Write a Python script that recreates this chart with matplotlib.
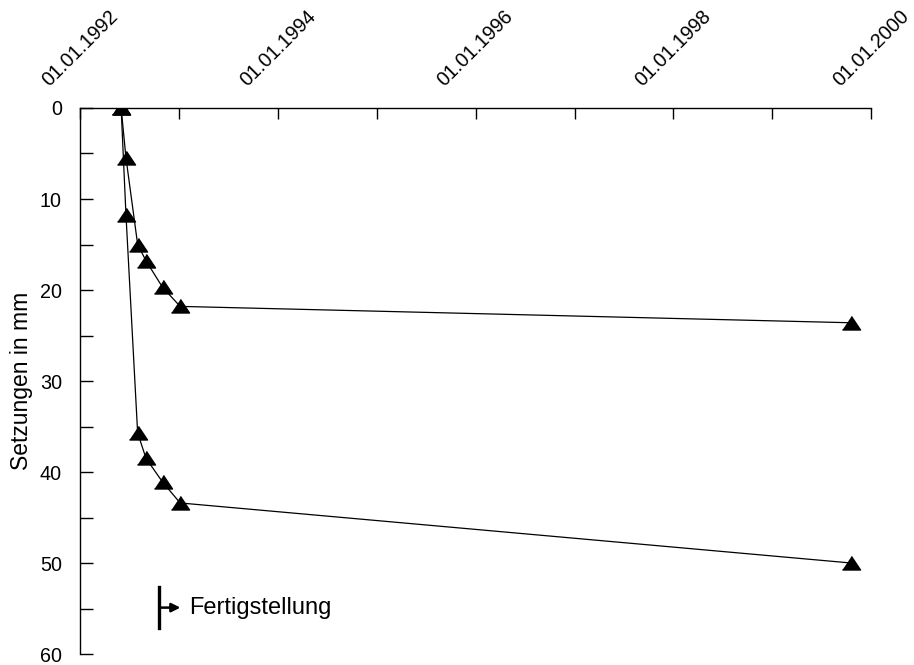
import datetime as dt
import matplotlib
matplotlib.use("Agg")
import matplotlib.pyplot as plt
import matplotlib.dates as mdates

plt.rcParams['font.family'] = ['Liberation Sans', 'DejaVu Sans']

# measurement dates (shared by both points)
dates = [dt.date(1992, 6, 1), dt.date(1992, 6, 19), dt.date(1992, 8, 1),
         dt.date(1992, 9, 1), dt.date(1992, 11, 1), dt.date(1993, 1, 5),
         dt.date(1999, 10, 20)]
upper = [0, 5.5, 15.0, 16.8, 19.7, 21.8, 23.6]
lower = [0, 11.8, 35.7, 38.5, 41.1, 43.4, 50.0]

finish_date = dt.date(1992, 10, 20)
finish_label = 'Fertigstellung'

fig = plt.figure(figsize=(9.14, 6.65), dpi=100)
ax = fig.add_axes([0.0875, 0.0165, 0.8655, 0.8211])

tri = [(-1, -0.72), (1, -0.72), (0, 0.78)]
for s in (upper, lower):
    ax.plot(dates, s, color='black', lw=0.9, marker=tri, ms=13,
            markerfacecolor='black', markeredgecolor='black')

ax.set_xlim(dt.date(1992, 1, 1), dt.date(2000, 1, 1))
ax.set_ylim(60, 0)

# x axis on top, yearly ticks, labels every second year
ax.xaxis.tick_top()
ax.xaxis.set_major_locator(mdates.YearLocator(1))
ax.xaxis.set_major_formatter(
    plt.FuncFormatter(lambda v, p: mdates.num2date(v).strftime('%d.%m.%Y')
                      if mdates.num2date(v).year % 2 == 0 else ''))
ax.tick_params(axis='x', direction='in', length=8, width=1, pad=13, labelsize=14.2)
for lab in ax.get_xticklabels():
    lab.set_rotation(45)
    lab.set_ha('center')
    lab.set_va('bottom')

ax.set_yticks(range(0, 61, 5))
ax.set_yticklabels([str(v) if v % 10 == 0 else '' for v in range(0, 61, 5)])
ax.tick_params(axis='y', direction='in', length=9, width=1, pad=13, labelsize=14.2)

ax.spines['right'].set_visible(False)
ax.spines['bottom'].set_visible(False)
for sp in ('left', 'top'):
    ax.spines[sp].set_linewidth(1)

ax.set_ylabel('Setzungen in mm', fontsize=16.5, labelpad=5)

# completion marker
ax.plot([finish_date, finish_date], [52.6, 57.1], color='black', lw=2.4)
ax.annotate('', xy=(dt.date(1993, 1, 6), 54.9), xytext=(finish_date, 54.9),
            arrowprops=dict(arrowstyle='-|>', color='black', lw=1.8,
                            mutation_scale=13, shrinkA=0, shrinkB=0))
ax.text(dt.date(1993, 2, 8), 54.9, finish_label, fontsize=17, va='center', ha='left')

fig.savefig('out.png', dpi=100)
